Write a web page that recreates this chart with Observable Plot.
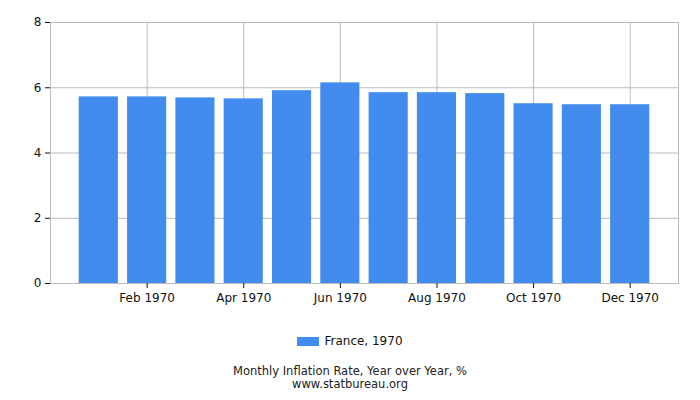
<!DOCTYPE html>
<html>
<head>
<meta charset="utf-8">
<script src="https://cdn.jsdelivr.net/npm/d3@7"></script>
<script src="https://cdn.jsdelivr.net/npm/@observablehq/plot@0.6"></script>
<style>
  body { margin: 0; background: #fff; font-family: "DejaVu Sans", sans-serif; }
  #wrap { width: 700px; }
  #chart svg { display: block; }
  .legend { display: flex; justify-content: center; align-items: center; font-size: 12px; color: #111; margin-top: 13px; height: 16px; }
  .swatch { width: 22px; height: 9px; background: #428CEF; margin-right: 5px; }
  .title { text-align: center; font-size: 11.5px; color: #222; margin-top: 16px; line-height: 13px; }
</style>
</head>
<body>
<div id="wrap">
  <div id="chart"></div>
  <div class="legend"><div class="swatch"></div><span>France, 1970</span></div>
  <div class="title"><div>Monthly Inflation Rate, Year over Year, %</div><div>www.statbureau.org</div></div>
</div>
<script>
const months = ["Jan 1970","Feb 1970","Mar 1970","Apr 1970","May 1970","Jun 1970","Jul 1970","Aug 1970","Sep 1970","Oct 1970","Nov 1970","Dec 1970"];
const values = [5.72, 5.72, 5.69, 5.66, 5.91, 6.15, 5.85, 5.85, 5.82, 5.51, 5.48, 5.48];
const tickMonths = ["Feb 1970","Apr 1970","Jun 1970","Aug 1970","Oct 1970","Dec 1970"];
const yTicks = [0, 2, 4, 6, 8];

const data = months.map((m, i) => ({month: m, value: values[i]}));

const chart = Plot.plot({
  width: 700,
  height: 320,
  marginTop: 22,
  marginLeft: 50,
  marginRight: 22,
  marginBottom: 37,
  style: {fontFamily: "DejaVu Sans, sans-serif", fontSize: "12px", color: "#111", background: "#fff"},
  x: {type: "band", domain: months, paddingInner: 0.19, paddingOuter: 0.595, round: false},
  y: {domain: [0, 8]},
  marks: [
    Plot.gridY(yTicks, {stroke: "#bbb", strokeOpacity: 1}),
    Plot.gridX(tickMonths, {stroke: "#bbb", strokeOpacity: 1}),
    Plot.frame({stroke: "#bbb"}),
    Plot.barY(data, {x: "month", y: "value", fill: "#428CEF"}),
    Plot.axisX(tickMonths, {tickSize: 5, tickPadding: 5, label: null, fontSize: 12, stroke: "#111"}),
    Plot.axisY(yTicks, {tickSize: 5, label: null, fontSize: 12, stroke: "#111"})
  ]
});
document.getElementById("chart").appendChild(chart);
</script>
</body>
</html>
